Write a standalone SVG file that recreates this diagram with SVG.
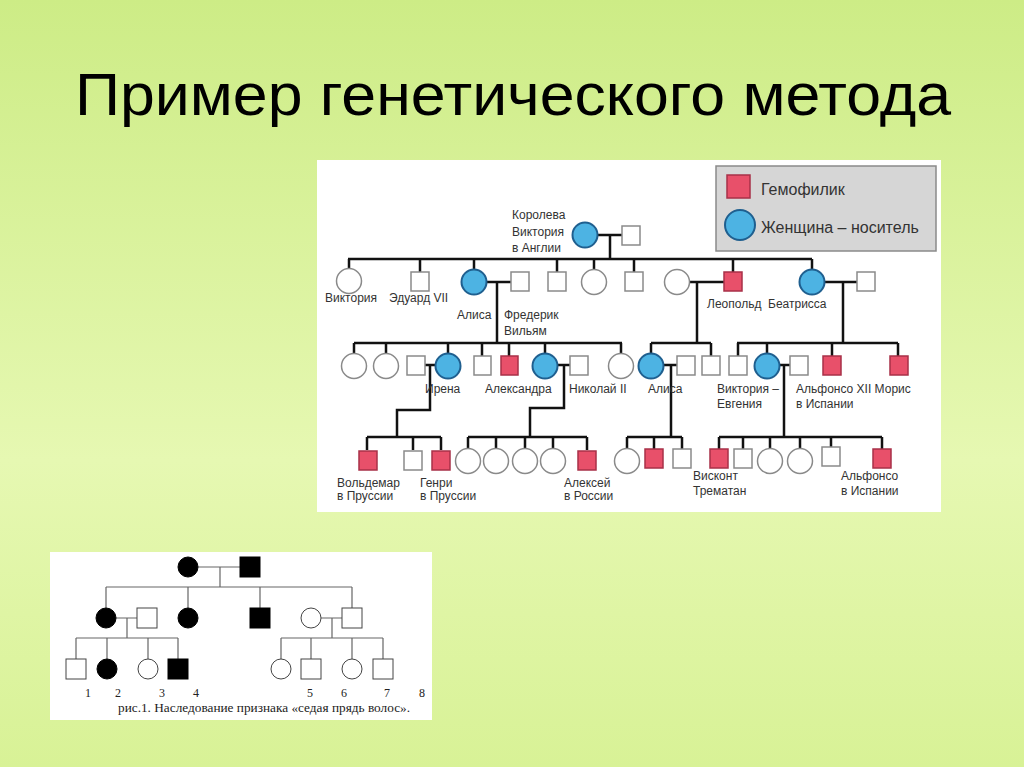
<svg xmlns="http://www.w3.org/2000/svg" width="1024" height="767" viewBox="0 0 1024 767">
<defs>
<linearGradient id="bg" x1="0" y1="0" x2="0" y2="1">
<stop offset="0" stop-color="#cdec86"/>
<stop offset="0.6" stop-color="#e6f8b2"/>
<stop offset="1" stop-color="#d8f296"/>
</linearGradient>
<style>
.ln{stroke:#111;stroke-width:2.5;fill:none}
.sq{fill:#fff;stroke:#8a8a8a;stroke-width:1.5}
.ci{fill:#fff;stroke:#8a8a8a;stroke-width:1.5}
.hm{fill:#e8506a;stroke:#a83048;stroke-width:1.5}
.cr{fill:#4db3e3;stroke:#1f5f8f;stroke-width:2}
.lb{font-family:"Liberation Sans",Arial,sans-serif;font-size:12px;fill:#333}
.lg{font-family:"Liberation Sans",Arial,sans-serif;font-size:16px;fill:#333}
.bl{stroke:#666;stroke-width:1.2;fill:none}
.bw{fill:#fff;stroke:#444;stroke-width:1}
.bk{fill:#000;stroke:#000;stroke-width:1}
.nm{font-family:"Liberation Serif","Times New Roman",serif;font-size:12px;fill:#222;text-anchor:middle}
</style>
</defs>
<rect width="1024" height="767" fill="url(#bg)"/>
<text x="75" y="115" font-family="Liberation Sans, Arial, sans-serif" font-size="59" fill="#000" textLength="876" lengthAdjust="spacingAndGlyphs">Пример генетического метода</text>

<!-- top pedigree panel -->
<rect x="317" y="160" width="624" height="352" fill="#fff"/>

<g id="connectors-top">
<path class="ln" d="M597 235H622M610 235V259M348 259H812"/>
<path class="ln" d="M349 259V269M420 259V272M474 259V270M557 259V272M594 259V270M634 259V272M733 259V272M812 259V270"/>
<path class="ln" d="M486 282H511M497 282V343M354 343H622"/>
<path class="ln" d="M689 282H724M697 282V343M651 343H711"/>
<path class="ln" d="M824 282H857M843 282V343M737 343H898"/>
<path class="ln" d="M354 343V354M386 343V354M448 343V354M482 343V356M509 343V356M545 343V354M621 343V354"/>
<path class="ln" d="M651 343V354M711 343V356M738 343V356M767 343V354M832 343V356M898 343V356"/>
<path class="ln" d="M425 365H436M430 365V410H397V437M367 437H441M367 437V450M413 437V450M441 437V450"/>
<path class="ln" d="M557 365H570M564 365V408H530V437M468 437H587M468 437V449M496 437V449M525 437V449M553 437V449M587 437V450"/>
<path class="ln" d="M664 365H677M671 365V437M627 437H682M627 437V449M654 437V450M682 437V450"/>
<path class="ln" d="M779 365H790M784 365V437M719 437H882M719 437V450M743 437V450M770 437V449M800 437V449M831 437V448M882 437V450"/>
</g>

<g id="legend">
<rect x="716" y="166" width="220" height="85" fill="#d6d6d6" stroke="#8a8a8a" stroke-width="1.5"/>
<rect class="hm" x="727" y="175" width="23" height="23"/>
<text class="lg" x="761" y="195">Гемофилик</text>
<circle class="cr" cx="740" cy="225" r="15"/>
<text class="lg" x="761" y="233">Женщина – носитель</text>
</g>

<g id="n-queen-victoria"><circle class="cr" cx="585" cy="235" r="12.5"/>
<text class="lb" x="512" y="219">Королева</text><text class="lb" x="512" y="236">Виктория</text><text class="lb" x="512" y="252">в Англии</text></g>
<g id="n-albert"><rect class="sq" x="622" y="226" width="18" height="19"/></g>

<g id="n-victoria"><circle class="ci" cx="349" cy="281" r="12.5"/><text class="lb" x="325" y="302">Виктория</text></g>
<g id="n-edward"><rect class="sq" x="411" y="272" width="18" height="19"/><text class="lb" x="389" y="302">Эдуард VII</text></g>
<g id="n-alice"><circle class="cr" cx="474" cy="282" r="12.5"/><text class="lb" x="457" y="319">Алиса</text></g>
<g id="n-frederick"><rect class="sq" x="511" y="272" width="18" height="19"/><text class="lb" x="504" y="319">Фредерик</text><text class="lb" x="504" y="335">Вильям</text></g>
<g id="n-g2-s1"><rect class="sq" x="548" y="272" width="18" height="19"/></g>
<g id="n-g2-c1"><circle class="ci" cx="594" cy="282" r="12.5"/></g>
<g id="n-g2-s2"><rect class="sq" x="625" y="272" width="18" height="19"/></g>
<g id="n-leopold-wife"><circle class="ci" cx="677" cy="282" r="12.5"/></g>
<g id="n-leopold"><rect class="hm" x="724" y="272" width="18" height="19"/><text class="lb" x="707" y="308">Леопольд</text></g>
<g id="n-beatrice"><circle class="cr" cx="812" cy="282" r="12.5"/><text class="lb" x="768" y="308">Беатрисса</text></g>
<g id="n-beatrice-husband"><rect class="sq" x="857" y="272" width="18" height="19"/></g>

<g id="n-g3-c1"><circle class="ci" cx="354" cy="366" r="12.5"/></g>
<g id="n-g3-c2"><circle class="ci" cx="386" cy="366" r="12.5"/></g>
<g id="n-irena-husband"><rect class="sq" x="407" y="356" width="18" height="19"/></g>
<g id="n-irena"><circle class="cr" cx="448" cy="366" r="12.5"/><text class="lb" x="425" y="393">Ирена</text></g>
<g id="n-g3-s1"><rect class="sq" x="474" y="356" width="17" height="19"/></g>
<g id="n-g3-h1"><rect class="hm" x="501" y="356" width="17" height="19"/></g>
<g id="n-alexandra"><circle class="cr" cx="545" cy="366" r="12.5"/><text class="lb" x="485" y="393">Александра</text></g>
<g id="n-nikolai"><rect class="sq" x="570" y="356" width="18" height="19"/><text class="lb" x="569" y="393">Николай II</text></g>
<g id="n-g3-c3"><circle class="ci" cx="621" cy="366" r="12.5"/></g>
<g id="n-alice2"><circle class="cr" cx="651" cy="366" r="12.5"/><text class="lb" x="648" y="393">Алиса</text></g>
<g id="n-alice2-husband"><rect class="sq" x="677" y="356" width="18" height="19"/></g>
<g id="n-g3-s2"><rect class="sq" x="702" y="356" width="18" height="19"/></g>
<g id="n-g3-s3"><rect class="sq" x="729" y="356" width="18" height="19"/></g>
<g id="n-victoria-eugenie"><circle class="cr" cx="767" cy="366" r="12.5"/><text class="lb" x="717" y="393">Виктория –</text><text class="lb" x="717" y="408">Евгения</text></g>
<g id="n-alfonso13"><rect class="sq" x="790" y="356" width="18" height="19"/><text class="lb" x="796" y="393">Альфонсо XII Морис</text><text class="lb" x="796" y="408">в Испании</text></g>
<g id="n-g3-h2"><rect class="hm" x="823" y="356" width="18" height="19"/></g>
<g id="n-g3-h3"><rect class="hm" x="890" y="356" width="18" height="19"/></g>

<g id="n-waldemar"><rect class="hm" x="359" y="451" width="18" height="19"/><text class="lb" x="337" y="487">Вольдемар</text><text class="lb" x="337" y="500">в Пруссии</text></g>
<g id="n-g4-s1"><rect class="sq" x="404" y="451" width="18" height="19"/></g>
<g id="n-henry"><rect class="hm" x="432" y="451" width="18" height="19"/><text class="lb" x="420" y="487">Генри</text><text class="lb" x="420" y="500">в Пруссии</text></g>
<g id="n-g4-c1"><circle class="ci" cx="468" cy="461" r="12.5"/></g>
<g id="n-g4-c2"><circle class="ci" cx="496" cy="461" r="12.5"/></g>
<g id="n-g4-c3"><circle class="ci" cx="525" cy="461" r="12.5"/></g>
<g id="n-g4-c4"><circle class="ci" cx="553" cy="461" r="12.5"/></g>
<g id="n-alexei"><rect class="hm" x="578" y="451" width="18" height="19"/><text class="lb" x="564" y="487">Алексей</text><text class="lb" x="564" y="500">в России</text></g>
<g id="n-g4-c5"><circle class="ci" cx="627" cy="461" r="12.5"/></g>
<g id="n-g4-h1"><rect class="hm" x="645" y="449" width="18" height="19"/></g>
<g id="n-g4-s2"><rect class="sq" x="673" y="449" width="18" height="19"/></g>
<g id="n-viscount"><rect class="hm" x="710" y="449" width="18" height="19"/><text class="lb" x="693" y="480">Висконт</text><text class="lb" x="693" y="495">Трематан</text></g>
<g id="n-g4-s3"><rect class="sq" x="734" y="449" width="18" height="19"/></g>
<g id="n-g4-c6"><circle class="ci" cx="770" cy="461" r="12.5"/></g>
<g id="n-g4-c7"><circle class="ci" cx="800" cy="461" r="12.5"/></g>
<g id="n-g4-s4"><rect class="sq" x="822" y="447" width="18" height="19"/></g>
<g id="n-alfonso"><rect class="hm" x="873" y="449" width="18" height="19"/><text class="lb" x="841" y="480">Альфонсо</text><text class="lb" x="841" y="495">в Испании</text></g>

<!-- bottom pedigree -->
<rect x="50" y="552" width="382" height="168" fill="#fff"/>
<g id="connectors-bottom">
<path class="bl" d="M198 567H240M220 567V587M106 587H352M106 587V608M188 587V608M260 587V608M352 587V608"/>
<path class="bl" d="M116 618H137M127 618V638M76 638H178M76 638V659M107 638V659M148 638V659M178 638V659"/>
<path class="bl" d="M321 618H342M332 618V638M281 638H383M281 638V659M311 638V659M352 638V659M383 638V659"/>
</g>
<g id="b1"><circle class="bk" cx="188" cy="567" r="10"/></g>
<g id="b2"><rect class="bk" x="240" y="557" width="20" height="20"/></g>
<g id="b3"><circle class="bk" cx="106" cy="618" r="10"/></g>
<g id="b4"><rect class="bw" x="137" y="608" width="20" height="20"/></g>
<g id="b5"><circle class="bk" cx="188" cy="618" r="10"/></g>
<g id="b6"><rect class="bk" x="250" y="608" width="20" height="20"/></g>
<g id="b7"><circle class="bw" cx="311" cy="618" r="10"/></g>
<g id="b8"><rect class="bw" x="342" y="608" width="20" height="20"/></g>
<g id="b9"><rect class="bw" x="66" y="659" width="20" height="20"/></g>
<g id="b10"><circle class="bk" cx="107" cy="669" r="10"/></g>
<g id="b11"><circle class="bw" cx="148" cy="669" r="10"/></g>
<g id="b12"><rect class="bk" x="168" y="659" width="20" height="20"/></g>
<g id="b13"><circle class="bw" cx="281" cy="669" r="10"/></g>
<g id="b14"><rect class="bw" x="301" y="659" width="20" height="20"/></g>
<g id="b15"><circle class="bw" cx="352" cy="669" r="10"/></g>
<g id="b16"><rect class="bw" x="373" y="659" width="20" height="20"/></g>
<g id="numbers">
<text class="nm" x="88" y="697">1</text><text class="nm" x="118" y="697">2</text><text class="nm" x="162" y="697">3</text><text class="nm" x="196" y="697">4</text>
<text class="nm" x="310" y="697">5</text><text class="nm" x="344" y="697">6</text><text class="nm" x="387" y="697">7</text><text class="nm" x="422" y="697">8</text>
</g>
<text x="118" y="712" font-family="Liberation Serif, Times New Roman, serif" font-size="12.5" fill="#222" textLength="292" lengthAdjust="spacingAndGlyphs">рис.1. Наследование признака «седая прядь волос».</text>
</svg>
